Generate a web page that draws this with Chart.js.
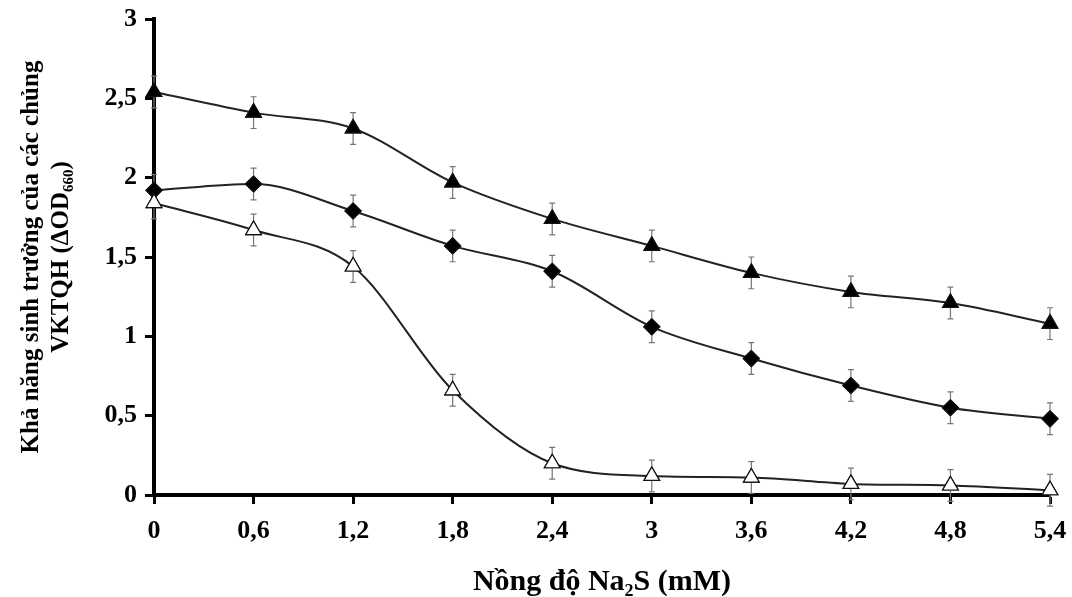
<!DOCTYPE html>
<html>
<head>
<meta charset="utf-8">
<script src="https://cdn.jsdelivr.net/npm/chart.js@4"></script>
<style>
  html, body { margin: 0; padding: 0; background: #fff; }
  #wrap { width: 1072px; height: 597px; }
</style>
</head>
<body>
<div id="wrap"><canvas id="chart" width="1072" height="597"></canvas></div>
<script>
// x categories (Na2S, mM)
const concLabels = ['0', '0,6', '1,2', '1,8', '2,4', '3', '3,6', '4,2', '4,8', '5,4'];

// three strains
const filledTriangle = [2.54, 2.41, 2.31, 1.97, 1.74, 1.57, 1.40, 1.28, 1.21, 1.08];
const filledDiamond  = [1.92, 1.96, 1.79, 1.57, 1.41, 1.06, 0.86, 0.69, 0.55, 0.48];
const openTriangle   = [1.84, 1.67, 1.44, 0.66, 0.20, 0.12, 0.11, 0.07, 0.06, 0.03];

const errTriangle = [0.1, 0.1, 0.1, 0.1, 0.1, 0.1, 0.1, 0.1, 0.1, 0.1];
const errDiamond  = [0.1, 0.1, 0.1, 0.1, 0.1, 0.1, 0.1, 0.1, 0.1, 0.1];
const errOpen     = [0.1, 0.1, 0.1, 0.1, 0.1, 0.1, 0.1, 0.1, 0.1, 0.1];

const yTicks = [0, 0.5, 1, 1.5, 2, 2.5, 3];

const serif = '"Liberation Serif", "Times New Roman", "DejaVu Serif", serif';

// gray error bars with small caps, markers redrawn on top
const errorBars = {
  id: 'errorBars',
  afterDatasetsDraw(chart) {
    const ctx = chart.ctx;
    const y = chart.scales.y;
    ctx.save();
    ctx.strokeStyle = '#777';
    ctx.lineWidth = 1.2;
    chart.data.datasets.forEach((ds, i) => {
      const meta = chart.getDatasetMeta(i);
      meta.data.forEach((pt, j) => {
        const e = ds.errors[j];
        const v = ds.data[j];
        const top = y.getPixelForValue(v + e);
        const bot = y.getPixelForValue(v - e);
        ctx.beginPath();
        ctx.moveTo(pt.x, top); ctx.lineTo(pt.x, bot);
        ctx.moveTo(pt.x - 3, top); ctx.lineTo(pt.x + 3, top);
        ctx.moveTo(pt.x - 3, bot); ctx.lineTo(pt.x + 3, bot);
        ctx.stroke();
      });
    });
    ctx.restore();
    chart.data.datasets.forEach((ds, i) => {
      chart.getDatasetMeta(i).data.forEach(pt => pt.draw(ctx, chart.chartArea));
    });
  }
};

function series(data, errors, style, fill) {
  return {
    data,
    errors,
    borderColor: '#222',
    borderWidth: 2,
    pointStyle: style,
    pointRadius: style === 'rectRot' ? 8 : 9,
    pointBackgroundColor: fill,
    pointBorderColor: '#111',
    pointBorderWidth: 1.2,
    cubicInterpolationMode: 'monotone',
    clip: false
  };
}

new Chart(document.getElementById('chart'), {
  type: 'line',
  data: {
    labels: concLabels,
    datasets: [
      series(filledTriangle, errTriangle, 'triangle', '#000'),
      series(filledDiamond, errDiamond, 'rectRot', '#000'),
      series(openTriangle, errOpen, 'triangle', '#fff')
    ]
  },
  options: {
    responsive: false,
    animation: false,
    layout: { padding: { left: 8, right: 22, top: 19, bottom: 0 } },
    plugins: { legend: { display: false }, tooltip: { enabled: false } },
    scales: {
      x: {
        type: 'category',
        offset: false,
        afterFit(scale) {
          scale.height = 102;
          scale.paddingLeft = 0;
          scale.paddingRight = 0;
        },
        grid: { drawOnChartArea: false, tickLength: 9, tickWidth: 3, color: '#000' },
        border: { display: true, width: 4, color: '#000' },
        ticks: { color: '#000', padding: 12, maxRotation: 0, font: { family: serif, size: 26, weight: 'bold' } },
        title: {
          display: true,
          text: 'Nồng độ Na₂S (mM)',
          color: '#000',
          padding: { top: 0, bottom: 0 },
          font: { family: serif, size: 30, weight: 'bold', lineHeight: 1.0 }
        }
      },
      y: {
        min: 0,
        max: 3,
        afterFit(scale) {
          scale.width = 146;
          scale.paddingTop = 0;
          scale.paddingBottom = 0;
        },
        afterBuildTicks(scale) { scale.ticks = yTicks.map(v => ({ value: v })); },
        grid: { drawOnChartArea: false, tickLength: 9, tickWidth: 3, color: '#000' },
        border: { display: true, width: 4, color: '#000' },
        ticks: {
          color: '#000',
          padding: 8,
          font: { family: serif, size: 26, weight: 'bold' },
          callback: v => String(v).replace('.', ',')
        },
        title: {
          display: true,
          text: ['Khả năng sinh trưởng của các chủng', 'VKTQH (ΔOD₆₆₀)'],
          color: '#000',
          padding: { top: 9, bottom: 0 },
          font: { family: serif, size: 25, weight: 'bold', lineHeight: 1.2 }
        }
      }
    }
  },
  plugins: [errorBars]
});
</script>
</body>
</html>
